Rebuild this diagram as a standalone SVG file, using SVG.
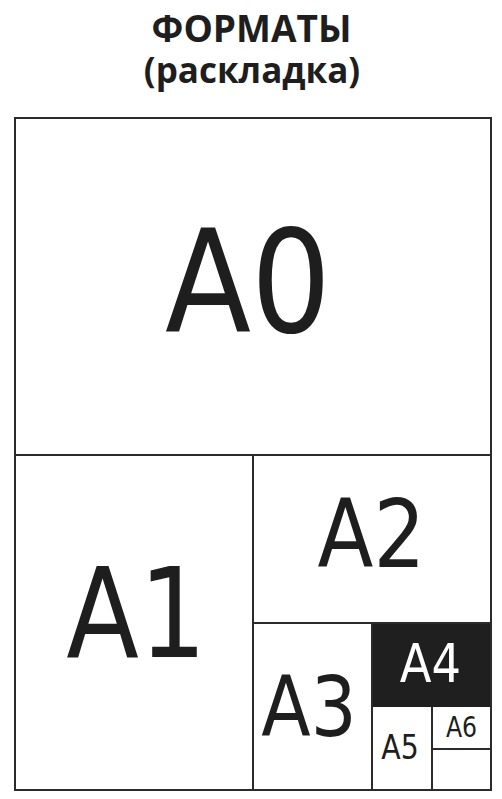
<svg xmlns="http://www.w3.org/2000/svg" width="502" height="799" viewBox="0 0 502 799">
<style>
.ln{stroke:#2b2b2b;stroke-width:2;fill:none}
.lbl{font-family:"DejaVu Sans","Open Sans",sans-serif;fill:#1e1e1e;text-anchor:middle}
.ttl{font-family:"Open Sans","DejaVu Sans",sans-serif;font-weight:bold;fill:#1e1e1e;text-anchor:middle}
</style>
<rect width="502" height="799" fill="#ffffff"/>
<g id="title">
<text class="ttl" x="251.5" y="42" font-size="37">ФОРМАТЫ</text>
<text class="ttl" x="252" y="83" font-size="35">(раскладка)</text>
</g>
<g id="A4">
<rect x="372" y="623" width="119" height="84" fill="#1f1f1f"/>
<text class="lbl" transform="translate(430.5,682) scale(0.86,1)" font-size="54" style="fill:#ffffff">A4</text>
</g>
<g id="connectors">
<rect class="ln" x="15" y="118" width="476" height="672"/>
<line class="ln" x1="15" y1="455" x2="491" y2="455"/>
<line class="ln" x1="253" y1="455" x2="253" y2="790"/>
<line class="ln" x1="253" y1="623" x2="491" y2="623"/>
<line class="ln" x1="372" y1="623" x2="372" y2="790"/>
<line class="ln" x1="432" y1="707" x2="432" y2="790"/>
<line class="ln" x1="432" y1="749" x2="491" y2="749"/>
</g>
<g id="A0"><text class="lbl" transform="translate(248,332) scale(0.88,1)" font-size="143">A0</text></g>
<g id="A1"><text class="lbl" transform="translate(136.5,657) scale(0.85,1)" font-size="125">A1</text></g>
<g id="A2"><text class="lbl" transform="translate(371.5,567) scale(0.86,1)" font-size="95">A2</text></g>
<g id="A3"><text class="lbl" transform="translate(309,736) scale(0.86,1)" font-size="84">A3</text></g>
<g id="A5"><text class="lbl" transform="translate(400,759) scale(0.86,1)" font-size="33">A5</text></g>
<g id="A6"><text class="lbl" transform="translate(461.5,737) scale(0.86,1)" font-size="27.5">A6</text></g>
</svg>
